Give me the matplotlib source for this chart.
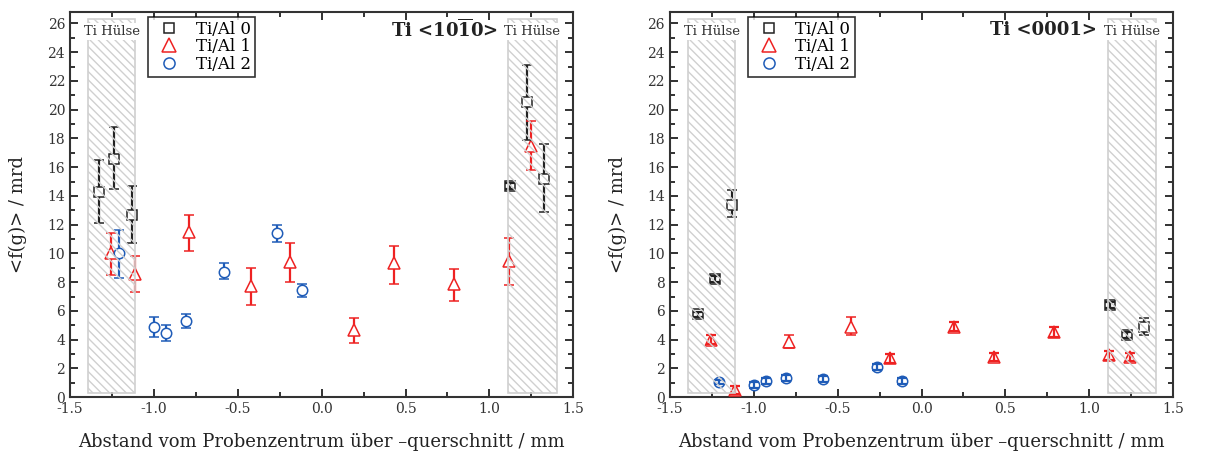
import numpy as np
import matplotlib
matplotlib.use("Agg")
import matplotlib.pyplot as plt
from matplotlib.patches import Rectangle
from matplotlib.lines import Line2D
from matplotlib.ticker import MultipleLocator, FormatStrFormatter

plt.rcParams['font.family'] = ['DejaVu Serif']
plt.rcParams['mathtext.fontset'] = 'dejavuserif'
plt.rcParams['axes.unicode_minus'] = False
plt.rcParams['hatch.linewidth'] = 1.0
plt.rcParams['hatch.color'] = '#bdbdbd'

# ---- data: Ti <10-10> (left) ----
x0_a = [-1.33, -1.235, -1.13, 1.125, 1.225, 1.325]
y0_a = [14.3, 16.6, 12.7, 14.7, 20.5, 15.2]
lo0_a = [12.1, 14.5, 10.7, 14.5, 17.9, 12.9]
hi0_a = [16.5, 18.8, 14.7, 14.9, 23.1, 17.6]

x1_a = [-1.255, -1.11, -0.79, -0.42, -0.19, 0.195, 0.43, 0.79, 1.115, 1.245]
y1_a = [10.0, 8.6, 11.5, 7.7, 9.4, 4.7, 9.3, 7.9, 9.5, 17.5]
lo1_a = [8.5, 7.3, 10.2, 6.4, 8.0, 3.8, 7.9, 6.7, 7.8, 15.8]
hi1_a = [11.4, 9.8, 12.7, 9.0, 10.7, 5.5, 10.5, 8.9, 11.1, 19.2]

x2_a = [-1.205, -1.0, -0.93, -0.81, -0.585, -0.265, -0.115]
y2_a = [10.0, 4.9, 4.45, 5.3, 8.7, 11.4, 7.45]
lo2_a = [8.3, 4.2, 3.9, 4.8, 8.2, 10.8, 7.0]
hi2_a = [11.6, 5.6, 5.0, 5.8, 9.3, 12.0, 7.9]

# ---- data: Ti <0001> (right) ----
x0_b = [-1.33, -1.23, -1.13, 1.125, 1.225, 1.325]
y0_b = [5.75, 8.2, 13.4, 6.4, 4.3, 4.9]
lo0_b = [5.55, 8.0, 12.5, 6.2, 4.1, 4.3]
hi0_b = [5.95, 8.4, 14.4, 6.6, 4.5, 5.5]

x1_b = [-1.255, -1.11, -0.79, -0.42, -0.19, 0.195, 0.43, 0.79, 1.115, 1.245]
y1_b = [4.0, 0.5, 3.85, 4.85, 2.7, 4.9, 2.8, 4.55, 2.9, 2.8]
lo1_b = [3.7, 0.2, 3.4, 4.3, 2.4, 4.6, 2.5, 4.2, 2.6, 2.5]
hi1_b = [4.3, 0.8, 4.3, 5.6, 3.0, 5.2, 3.1, 4.9, 3.2, 3.1]

x2_b = [-1.205, -1.0, -0.93, -0.81, -0.585, -0.265, -0.115]
y2_b = [1.05, 0.85, 1.1, 1.35, 1.25, 2.1, 1.1]
lo2_b = [0.9, 0.65, 0.9, 1.15, 1.05, 1.9, 0.9]
hi2_b = [1.2, 1.05, 1.3, 1.55, 1.45, 2.3, 1.3]

labels = ['Ti/Al 0', 'Ti/Al 1', 'Ti/Al 2']
colors = ['#222222', '#ee2222', '#1f5cb8']
markers = ['s', '^', 'o']
msizes = [6.5, 9, 7.5]
titles = ['Ti <10$\\mathbf{\\overline{1}}$0>', 'Ti <0001>']
sleeves = [(-1.39, -1.11), (1.11, 1.40)]

fig = plt.figure(figsize=(12.07, 4.57), dpi=100)
ax_l = fig.add_axes([0.058, 0.131, 0.417, 0.843])
ax_r = fig.add_axes([0.555, 0.131, 0.417, 0.843])

panels = [
    (ax_l, [(x0_a, y0_a, lo0_a, hi0_a), (x1_a, y1_a, lo1_a, hi1_a), (x2_a, y2_a, lo2_a, hi2_a)], titles[0]),
    (ax_r, [(x0_b, y0_b, lo0_b, hi0_b), (x1_b, y1_b, lo1_b, hi1_b), (x2_b, y2_b, lo2_b, hi2_b)], titles[1]),
]

for ax, series, title in panels:
    for i, (x, y, lo, hi) in enumerate(series):
        x = np.array(x)
        y = np.array(y)
        err = np.array([y - np.array(lo), np.array(hi) - y])
        eb = ax.errorbar(x, y, yerr=err, fmt=markers[i], ms=msizes[i], mfc='white',
                         mec=colors[i], mew=1.1, ecolor=colors[i], elinewidth=1.6,
                         capsize=3.5, capthick=1.6, zorder=3)
        for cl in eb[1]:
            cl.set_zorder(4)
        # short bars sit inside the marker and show through it
        small = err.max(axis=0) < 0.45
        if small.any():
            ax.errorbar(x[small], y[small], yerr=err[:, small], fmt='none',
                        ecolor=colors[i], elinewidth=1.6, capsize=3.5, capthick=1.6, zorder=4)

    # Ti Hülse regions
    for (a, b) in sleeves:
        ax.add_patch(Rectangle((a, 0.3), b - a, 26.0, facecolor='none',
                               edgecolor='#d0d0d0', lw=1.2, hatch='\\\\\\\\', zorder=5))
        ax.text((a + b) / 2, 25.45, 'Ti Hülse', ha='center', va='center', fontsize=9.5,
                color='#333333', zorder=6,
                bbox=dict(facecolor='white', edgecolor='none', pad=1.2))

    ax.text(0.849, 0.953, title, transform=ax.transAxes, ha='right', va='center',
            fontsize=13, fontweight='bold', color='#222222', zorder=7)

    handles = [Line2D([], [], ls='none', marker=markers[i], ms=msizes[i] + 0.5, mfc='white',
                      mec=colors[i], mew=1.1) for i in range(3)]
    leg = ax.legend(handles, labels, loc='upper left', bbox_to_anchor=(0.155, 0.988),
                    fontsize=12, frameon=True, fancybox=False, edgecolor='black',
                    handletextpad=0.6, labelspacing=0.03, borderpad=0.25,
                    handlelength=2.0, borderaxespad=0)
    leg.get_frame().set_linewidth(1.2)
    leg.set_zorder(8)

    ax.set_xlim(-1.5, 1.5)
    ax.set_ylim(0, 26.8)
    ax.xaxis.set_major_locator(MultipleLocator(0.5))
    ax.xaxis.set_minor_locator(MultipleLocator(0.25))
    ax.yaxis.set_major_locator(MultipleLocator(2))
    ax.yaxis.set_minor_locator(MultipleLocator(1))
    ax.xaxis.set_major_formatter(FormatStrFormatter('%.1f'))
    ax.tick_params(which='both', direction='in', top=True, right=True, color='#222222',
                   labelsize=10, width=1.3, labelcolor='#333333')
    ax.tick_params(which='major', length=6)
    ax.tick_params(which='minor', length=3.5)
    for sp in ax.spines.values():
        sp.set_linewidth(1.5)
        sp.set_color('#333333')
    ax.set_xlabel('Abstand vom Probenzentrum über –querschnitt / mm', fontsize=13,
                  color='#222222', labelpad=12)
    ax.set_ylabel('<f(g)> / mrd', fontsize=13, color='#222222')
    ax.yaxis.set_label_coords(-0.085, 0.475)

fig.savefig('out.png', dpi=100)
